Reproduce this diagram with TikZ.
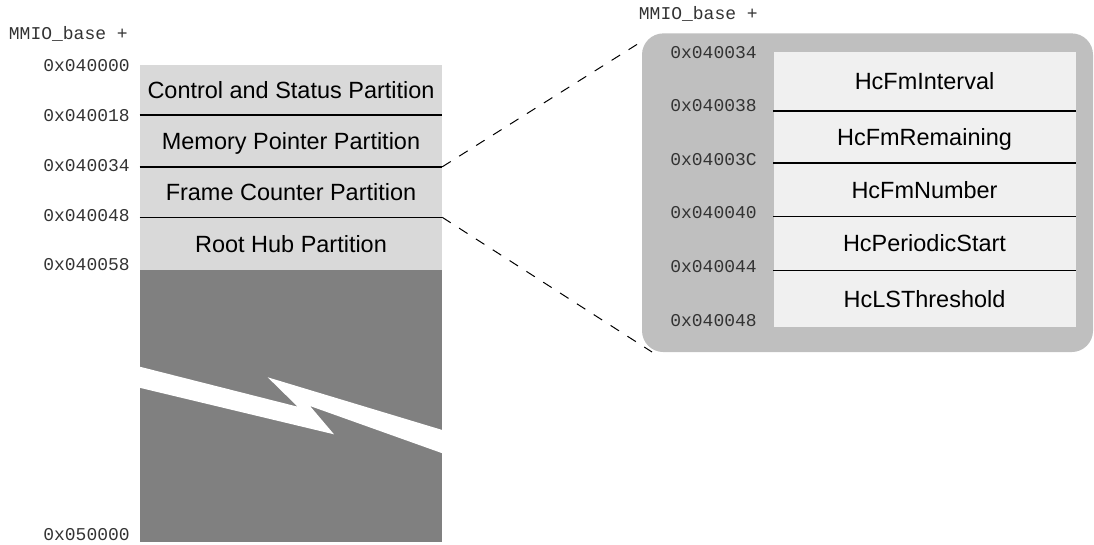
\documentclass[tikz,border=0pt]{standalone}
\usepackage{fontspec}
\setmainfont{Liberation Sans}
\newfontfamily\addrfont{Liberation Mono}
\usepackage{xcolor}
\usepackage{tikz}
\usetikzlibrary{positioning,calc}

\definecolor{part_gray}{HTML}{D9D9D9}
\definecolor{gap_gray}{HTML}{808080}
\definecolor{panel_gray}{HTML}{BFBFBF}
\definecolor{reg_gray}{HTML}{F0F0F0}

\begin{document}
\begin{tikzpicture}[
    x=0.75pt, y=-0.75pt,
    part_node/.style={rectangle, fill=part_gray, minimum width=226.5pt, inner sep=0pt,
        text height=12.6pt, text depth=0pt, font=\fontsize{17.6}{20}\selectfont},
    reg_node/.style={rectangle, fill=reg_gray, minimum width=226.5pt, inner sep=0pt,
        text height=12.6pt, text depth=0pt, font=\fontsize{17.6}{20}\selectfont},
    addr/.style={anchor=east, inner sep=0pt, text=black!80, text height=8.2pt, text depth=0pt,
        font=\addrfont\fontsize{13.5}{16}\selectfont},
    sep_line/.style={line width=1.2pt},
    zoom_edge/.style={line width=0.75pt, dash pattern=on 7.5pt off 7.5pt}
]
    \useasboundingbox (0,0) rectangle (1094,544);

    % --- Nodes ---
    % Left memory map
    \node[part_node, minimum height=37.5pt] (csp) at (291,90) {Control and Status Partition};
    \node[part_node, minimum height=38.25pt, below=0pt of csp] (mpp) {Memory Pointer Partition};
    \node[part_node, minimum height=37.5pt, below=0pt of mpp] (fcp) {Frame Counter Partition};
    \node[part_node, minimum height=39pt, below=0pt of fcp] (rhp) {Root Hub Partition};
    \node[rectangle, fill=gap_gray, minimum width=226.5pt, minimum height=204pt, inner sep=0pt,
        below=0pt of rhp] (gap) {};

    % break in the unused range
    \fill[white] (139,366.5) -- (297.7,406.7) -- (267.7,377.3) -- (443,430.2)
        -- (443,453.5) -- (310,406) -- (334,434.3) -- (139,387.6) -- cycle;

    % Left addresses
    \node[addr, anchor=base east] (base_l) at (128,39) {MMIO\_base +};
    \node[addr] (a_l1) at (130,66) {0x040000};
    \node[addr] (a_l2) at (130,116) {0x040018};
    \node[addr] (a_l3) at (130,166) {0x040034};
    \node[addr] (a_l4) at (130,216) {0x040048};
    \node[addr] (a_l5) at (130,265) {0x040058};
    \node[addr] (a_l6) at (130,535) {0x050000};

    % Right panel: frame counter registers
    \node[rectangle, rounded corners=16pt, fill=panel_gray, minimum width=338.25pt,
        minimum height=239pt, inner sep=0pt] (panel) at (867.5,192.7) {};
    \node[reg_node, minimum height=44.25pt] (r1) at (924.5,81.2) {HcFmInterval};
    \node[reg_node, minimum height=38.5pt, below=0pt of r1] (r2) {HcFmRemaining};
    \node[reg_node, minimum height=39.75pt, below=0pt of r2] (r3) {HcFmNumber};
    \node[reg_node, minimum height=40.3pt, below=0pt of r3] (r4) {HcPeriodicStart};
    \node[reg_node, minimum height=41.7pt, below=0pt of r4] (r5) {HcLSThreshold};

    % Right addresses
    \node[addr, anchor=base east] (base_r) at (758,19) {MMIO\_base +};
    \node[addr] (a_r1) at (757,53.3) {0x040034};
    \node[addr] (a_r2) at (757,106) {0x040038};
    \node[addr] (a_r3) at (757,160) {0x04003C};
    \node[addr] (a_r4) at (757,213) {0x040040};
    \node[addr] (a_r5) at (757,266.7) {0x040044};
    \node[addr] (a_r6) at (757,321) {0x040048};

    \coordinate (zoom_top) at (644,40);
    \coordinate (zoom_bot) at (652,352);

    % --- Edges ---
    \draw[sep_line] (csp.south west) -- (csp.south east);
    \draw[sep_line] (mpp.south west) -- (mpp.south east);
    \draw[sep_line] (fcp.south west) -- (fcp.south east);
    \foreach \r in {r1,r2,r3,r4}
        \draw[sep_line] (\r.south west) -- (\r.south east);

    \draw[zoom_edge] (fcp.north east) -- (zoom_top);
    \draw[zoom_edge] (fcp.south east) -- (zoom_bot);

\end{tikzpicture}
\end{document}
